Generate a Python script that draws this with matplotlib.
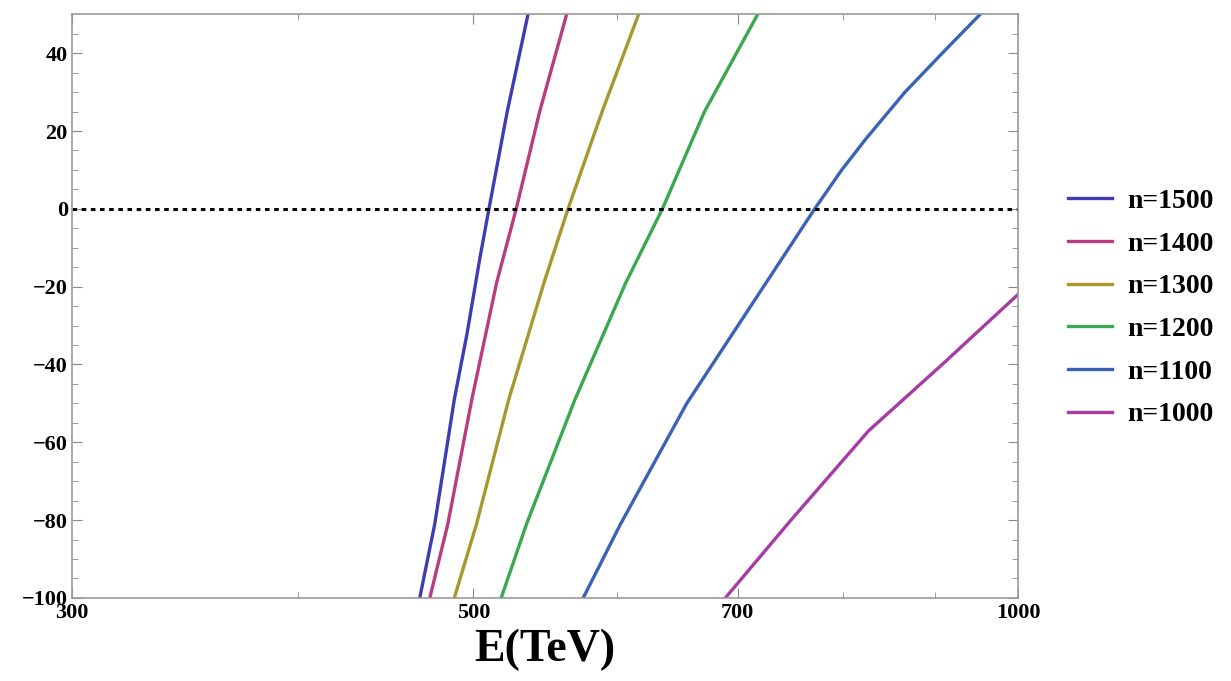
import numpy as np
import matplotlib.pyplot as plt
from matplotlib.ticker import FixedLocator, NullFormatter

# curves: energy (TeV) and value
labels = ['n=1500', 'n=1400', 'n=1300', 'n=1200', 'n=1100', 'n=1000']
colors = ['#3d3db0', '#b83c7e', '#a8962e', '#3aa84e', '#3b62b4', '#a83aa6']

e_1500 = [467, 476, 488, 496, 504, 510, 522, 536]
v_1500 = [-100, -81, -49, -32, -13, 0, 25, 50]
e_1400 = [473, 484, 499, 515, 528, 544, 563]
v_1400 = [-100, -81, -49, -19, 0, 25, 50]
e_1300 = [488, 502, 523, 547, 564, 589, 617]
v_1300 = [-100, -81, -49, -19, 0, 25, 50]
e_1200 = [518, 535, 569, 607, 636, 671, 718]
v_1200 = [-100, -81, -49, -19, 0, 25, 50]
e_1100 = [575, 603, 656, 772, 799, 824, 866, 908, 953]
v_1100 = [-100, -81, -50, 0, 10, 18, 30, 40, 50]
e_1000 = [689, 749, 827, 908, 1000]
v_1000 = [-100, -80, -57, -40, -22]

xticks = [300, 500, 700, 1000]
xminor = [400, 600, 800, 900]
yticks = [-100, -80, -60, -40, -20, 0, 20, 40]

plt.rcParams['font.family'] = ['Liberation Serif', 'DejaVu Serif']
plt.rcParams['font.weight'] = 'bold'

fig = plt.figure(figsize=(12.31, 6.81), dpi=100)
ax = fig.add_axes([0.0585, 0.122, 0.7685, 0.857])

series = [(e_1500, v_1500), (e_1400, v_1400), (e_1300, v_1300),
          (e_1200, v_1200), (e_1100, v_1100), (e_1000, v_1000)]
for (e, v), lab, c in zip(series, labels, colors):
    ax.plot(e, v, color=c, lw=2.4, label=lab)

ax.axhline(0, color='black', lw=2.2, ls=(0, (1.5, 1.5)))

ax.set_xscale('log')
ax.set_xlim(300, 1000)
ax.set_ylim(-100, 50)
ax.xaxis.set_major_locator(FixedLocator(xticks))
ax.xaxis.set_minor_locator(FixedLocator(xminor))
ax.xaxis.set_minor_formatter(NullFormatter())
ax.set_xticklabels([str(t) for t in xticks])
ax.set_yticks(yticks)
ax.yaxis.set_minor_locator(FixedLocator(np.arange(-95, 50, 5)))

for s in ax.spines.values():
    s.set_color('#999999')
    s.set_linewidth(1.2)
ax.tick_params(which='both', direction='in', top=True, right=True,
               color='#888888', labelsize=16)
ax.tick_params(which='major', length=7)
ax.tick_params(which='minor', length=4)
ax.tick_params(axis='y', pad=3)
ax.tick_params(axis='x', pad=4)

ax.set_xlabel('E(TeV)', fontsize=33, fontweight='bold', labelpad=4)

leg = ax.legend(loc='center left', bbox_to_anchor=(1.026, 0.497), frameon=False,
                handlelength=1.6, handletextpad=0.55, labelspacing=0.62,
                prop={'weight': 'bold', 'size': 20})

fig.savefig('out.png', dpi=100)
